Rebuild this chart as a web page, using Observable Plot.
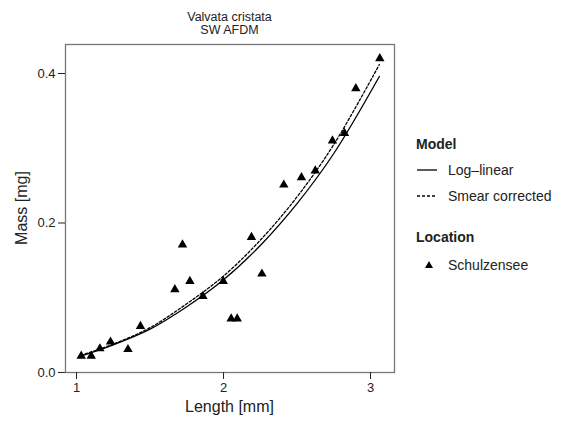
<!DOCTYPE html>
<html>
<head>
<meta charset="utf-8">
<script src="https://cdn.jsdelivr.net/npm/d3@7"></script>
<script src="https://cdn.jsdelivr.net/npm/@observablehq/plot@0.6"></script>
<style>
  body { margin: 0; background: #fff; font-family: "Liberation Sans", Arial, sans-serif; color: #222; }
  #wrap { position: relative; width: 572px; height: 422px; overflow: hidden; }
  #chart { position: absolute; left: 0; top: 0; }
  .title { position: absolute; left: 0; width: 459px; text-align: center; font-size: 12.5px; line-height: 12.5px; }
  .xlab { position: absolute; left: 0; width: 459px; text-align: center; font-size: 16px; top: 398px; }
  .ylab { position: absolute; left: 22px; top: 208px; font-size: 16px; white-space: nowrap; transform: translate(-50%, -50%) rotate(-90deg); }
  .leg { position: absolute; left: 416px; font-size: 14px; white-space: nowrap; }
  .leg b { font-weight: bold; }
  .row { position: absolute; left: 416px; font-size: 14px; white-space: nowrap; display: flex; align-items: center; }
  .row svg { margin-right: 6px; }
</style>
</head>
<body>
<div id="wrap">
  <div id="chart"></div>
</div>
<script>
// ---- data ----
const lengthMm = [1.032, 1.10, 1.159, 1.231, 1.35, 1.435, 1.669, 1.721, 1.771, 1.86, 1.998, 2.052, 2.093, 2.19, 2.261, 2.41, 2.53, 2.624, 2.741, 2.823, 2.90, 3.063];
const massMg  = [0.022, 0.022, 0.032, 0.041, 0.031, 0.062, 0.111, 0.171, 0.122, 0.102, 0.122, 0.072, 0.072, 0.181, 0.132, 0.251, 0.261, 0.270, 0.310, 0.320, 0.380, 0.420];

const curveLength   = [1.03, 1.25, 1.5, 1.75, 2.0, 2.25, 2.5, 2.75, 3.06];
const logLinearMass = [0.022, 0.037, 0.058, 0.088, 0.124, 0.170, 0.226, 0.293, 0.396];
const smearMass     = [0.023, 0.038, 0.060, 0.092, 0.129, 0.177, 0.235, 0.305, 0.412];

const xTicks = [1, 2, 3];
const yTicks = [0.0, 0.2, 0.4];

const titleLines = ["Valvata cristata", "SW AFDM"];
const xLabel = "Length [mm]";
const yLabel = "Mass [mg]";
const modelTitle = "Model";
const modelNames = ["Log\u2013linear", "Smear corrected"];
const locationTitle = "Location";
const locationNames = ["Schulzensee"];

// ---- build tables ----
const points = lengthMm.map((L, i) => ({L, M: massMg[i]}));
const solid = curveLength.map((L, i) => ({L, M: logLinearMass[i]}));
const dashed = curveLength.map((L, i) => ({L, M: smearMass[i]}));

const ink = "#222";
const chart = Plot.plot({
  width: 400,
  height: 422,
  marginLeft: 65,
  marginRight: 6,
  marginTop: 44,
  marginBottom: 50,
  style: {fontFamily: "'Liberation Sans', Arial, sans-serif", fontSize: "13px", color: ink, background: "white"},
  x: {domain: [0.925, 3.163], label: null},
  y: {domain: [0, 0.4388], label: null},
  marks: [
    Plot.frame({stroke: "#777", strokeWidth: 1.3}),
    Plot.axisX({ticks: xTicks, tickSize: 7, tickPadding: 3, tickFormat: d => String(d), label: null, stroke: ink}),
    Plot.axisY({ticks: yTicks, tickSize: 7, tickPadding: 3, tickFormat: d3.format(".1f"), label: null, stroke: ink}),
    Plot.line(solid, {x: "L", y: "M", stroke: "black", strokeWidth: 1.3, curve: "catmull-rom"}),
    Plot.line(dashed, {x: "L", y: "M", stroke: "black", strokeWidth: 1.3, strokeDasharray: "2.5,2", curve: "catmull-rom"}),
    Plot.dot(points, {x: "L", y: "M", symbol: "triangle", fill: "black", stroke: "none", r: 3.5})
  ]
});
const wrap = document.getElementById("wrap");
document.getElementById("chart").appendChild(chart);

function addDiv(cls, html, top) {
  const d = document.createElement("div");
  d.className = cls;
  d.innerHTML = html;
  if (top != null) d.style.top = top + "px";
  wrap.appendChild(d);
  return d;
}
addDiv("title", titleLines[0], 11);
addDiv("title", titleLines[1], 24);
addDiv("xlab", xLabel);
addDiv("ylab", yLabel);
addDiv("leg", "<b>" + modelTitle + "</b>", 136);
addDiv("row", '<svg width="26" height="10"><line x1="1" x2="21" y1="5" y2="5" stroke="black" stroke-width="1.3"/></svg>' + modelNames[0], 162);
addDiv("row", '<svg width="26" height="10"><line x1="1" x2="21" y1="5" y2="5" stroke="black" stroke-width="1.3" stroke-dasharray="3,2"/></svg>' + modelNames[1], 188);
addDiv("leg", "<b>" + locationTitle + "</b>", 229);
addDiv("row", '<svg width="26" height="10"><path d="M13,1 L17,8 L9,8 Z" fill="black"/></svg>' + locationNames[0], 257);
</script>
</body>
</html>
